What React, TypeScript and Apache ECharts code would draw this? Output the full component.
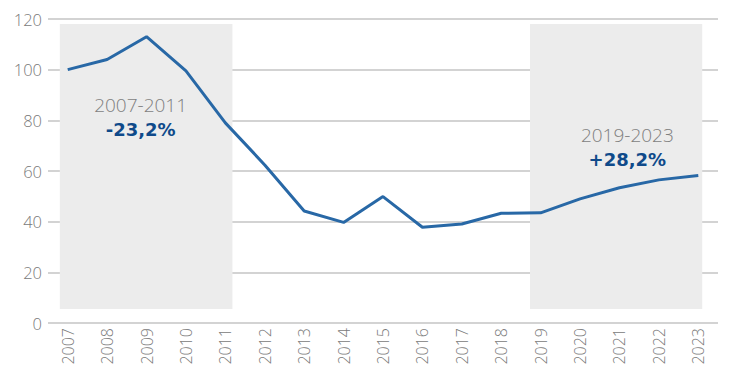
import React, { useEffect, useRef } from "react";
import * as echarts from "echarts";

const years = ["2007","2008","2009","2010","2011","2012","2013","2014","2015","2016","2017","2018","2019","2020","2021","2022","2023"];
const values = [100, 104, 113, 99.5, 79, 62.4, 44.2, 39.7, 49.9, 37.8, 39.1, 43.3, 43.5, 49, 53.4, 56.5, 58.2];
const yTicks = { min: 0, max: 120, interval: 20 };
const periods = [
  { label: "2007-2011", change: "-23,2%", from: -0.2, to: 4.18, top: 118, bottom: 5.5, labelX: 1.85, labelY: 81.5 },
  { label: "2019-2023", change: "+28,2%", from: 11.73, to: 16.1, top: 118, bottom: 5.5, labelX: 14.2, labelY: 69.5 },
];

export default function App() {
  const ref = useRef<HTMLDivElement>(null);
  useEffect(() => {
    const chart = echarts.init(ref.current!, null, { renderer: "svg" });
    const font = "'Open Sans', 'Noto Sans', sans-serif";
    chart.setOption({
      animation: false,
      grid: { left: 48, right: 15, top: 19, bottom: 53 },
      xAxis: [
        {
          type: "category",
          data: years,
          boundaryGap: true,
          axisLine: { show: false },
          axisTick: { show: false },
          axisLabel: { rotate: 90, color: "#7a7a7a", fontSize: 16, fontFamily: font, fontWeight: 300, margin: 5 },
        },
        { type: "value", min: -0.5, max: 16.5, show: false },
      ],
      yAxis: {
        type: "value",
        min: yTicks.min,
        max: yTicks.max,
        interval: yTicks.interval,
        axisLine: { show: false },
        axisTick: { show: false },
        axisLabel: { color: "#7a7a7a", fontSize: 16.5, fontFamily: font, fontWeight: 300, margin: 6 },
        splitLine: { lineStyle: { color: "#c4c4c4", width: 1.5 } },
      },
      series: [
        {
          type: "line",
          xAxisIndex: 1,
          data: [],
          silent: true,
          markArea: {
            silent: true,
            itemStyle: { color: "#ececec" },
            data: periods.map((p) => [
              { xAxis: p.from, yAxis: p.top },
              { xAxis: p.to, yAxis: p.bottom },
            ]),
          },
          markPoint: {
            symbol: "rect",
            symbolSize: 0,
            silent: true,
            data: periods.flatMap((p) => [
              {
                coord: [p.labelX, p.labelY],
                label: { show: true, formatter: p.label, color: "#7f7f7f", fontSize: 19, fontFamily: font, fontWeight: 300, offset: [0, -12] },
              },
              {
                coord: [p.labelX, p.labelY],
                label: { show: true, formatter: p.change, color: "#0f4a8a", fontSize: 18, fontFamily: "'DejaVu Sans', sans-serif", fontWeight: "bold", offset: [0, 13] },
              },
            ]),
          },
        },
        {
          type: "line",
          data: values,
          symbol: "none",
          lineStyle: { color: "#2868a6", width: 3 },
          z: 5,
        },
      ],
    });
    return () => chart.dispose();
  }, []);
  return <div ref={ref} style={{ width: 733, height: 376, position: "absolute", left: 0, top: 0 }} />;
}
